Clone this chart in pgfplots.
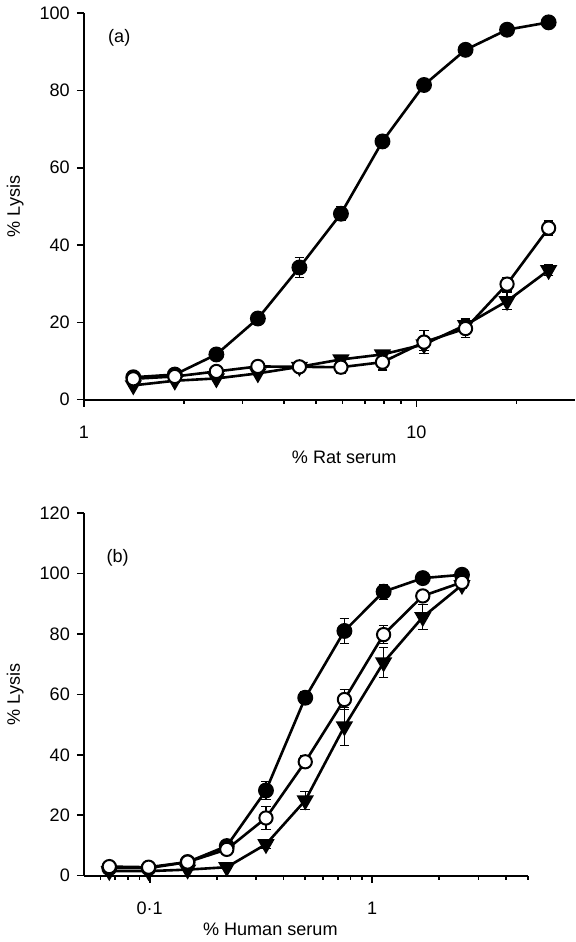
\documentclass[border=0pt]{standalone}
\usepackage{fontspec}
\setmainfont{Liberation Sans}
\usepackage{pgfplots}
\usepackage{pgfplotstable}
\pgfplotsset{compat=1.18}

% panel (a): % rat serum
\pgfplotstableread{
x      y     e
1.408  5.8   0.4
1.877  6.5   0.4
2.503  11.7  0.4
3.337  21.0  0.5
4.449  34.2  2.6
5.932  48.1  1.8
7.910  66.8  1.2
10.547 81.4  1.2
14.063 90.5  0.6
18.75  95.7  0.4
25.0   97.6  0.4
}\ratfilled
\pgfplotstableread{
x      y     e
1.408  5.4   0.4
1.877  6.0   0.4
2.503  7.3   0.4
3.337  8.6   0.5
4.449  8.5   1.2
5.932  8.4   1.5
7.910  9.7   2.0
10.547 14.9  3.0
14.063 18.4  2.4
18.75  29.9  1.8
25.0   44.4  1.8
}\ratopen
\pgfplotstableread{
x      y     e
1.408  3.7   0.3
1.877  4.9   0.3
2.503  5.5   0.3
3.337  6.8   0.3
4.449  8.5   0.6
5.932  10.4  0.5
7.910  11.7  0.5
10.547 14.3  1.5
14.063 19.3  1.6
18.75  25.5  2.2
25.0   33.5  1.4
}\rattri

% panel (b): % human serum
\pgfplotstableread{
x      y     e
0.0658 2.5   0.2
0.0988 2.5   0.2
0.148  4.5   0.4
0.222  9.8   0.5
0.333  28.2  3.0
0.5    58.9  2.0
0.75   81.0  4.2
1.125  94.0  2.5
1.6875 98.5  0.8
2.531  99.6  0.5
}\humfilled
\pgfplotstableread{
x      y     e
0.0658 3.0   0.3
0.0988 2.8   0.3
0.148  4.5   0.5
0.222  8.7   0.5
0.333  19.1  3.7
0.5    37.7  2.0
0.75   58.3  3.2
1.125  79.8  3.0
1.6875 92.6  1.5
2.531  97.1  0.5
}\humopen
\pgfplotstableread{
x      y     e
0.0658 1.5   0.2
0.0988 1.5   0.2
0.148  2.0   0.2
0.222  2.8   0.3
0.333  10.4  1.3
0.5    24.9  3.0
0.75   49.4  6.2
1.125  70.6  5.0
1.6875 85.6  4.2
2.531  96.2  1.0
}\humtri

\begin{document}
\begin{tikzpicture}[
  ser/.style={black, line width=1.3pt},
  filled/.style={mark=*, mark size=3.3pt, mark options={solid, fill=black}},
  open/.style={mark=*, mark size=3.3pt, mark options={solid, fill=white, draw=black, line width=1pt}},
  tri/.style={mark=triangle*, mark size=3.7pt, mark options={solid, fill=black, rotate=180}},
]
% (a)
\begin{axis}[
  scale only axis,
  xmode=log,
  axis lines*=left,
  axis line style={line width=1pt},
  tick align=outside,
  major tick length=3.5pt,
  minor tick length=2pt,
  every tick/.style={black, line width=0.8pt},
  font=\fontsize{9}{10}\selectfont,
  /pgf/number format/assume math mode=true,
  clip=false,
  xticklabel style={yshift=-6pt},
  error bars/y dir=both, error bars/y explicit,
  error bars/error bar style={line width=0.6pt, black},
  error bars/error mark options={line width=0.6pt, mark size=2.4pt, black, rotate=90},
  at={(0,237pt)},
  width=244.5pt, height=192.5pt,
  xmin=1, xmax=30, ymin=0, ymax=100,
  ytick={0,20,40,60,80,100},
  xtick={1,10}, xticklabels={1,10},
  minor xtick={2,3,4,5,6,7,8,9,20},
  xlabel={\% Rat serum}, ylabel={\% Lysis},
  xlabel style={at={(axis description cs:0.53,-0.148)}, anchor=center},
  ylabel style={at={(axis description cs:-0.14,0.5)}, anchor=center},
]
\addplot[ser, filled] table[x=x, y=y, y error=e] {\ratfilled};
\addplot[ser, tri] table[x=x, y=y, y error=e] {\rattri};
\addplot[ser, open] table[x=x, y=y, y error=e] {\ratopen};
\node[anchor=west, font=\fontsize{9}{10}\selectfont] at (rel axis cs:0.035,0.935) {(a)};
\end{axis}

% (b)
\begin{axis}[
  scale only axis,
  xmode=log,
  axis lines*=left,
  axis line style={line width=1pt},
  tick align=outside,
  major tick length=3.5pt,
  minor tick length=2pt,
  every tick/.style={black, line width=0.8pt},
  font=\fontsize{9}{10}\selectfont,
  /pgf/number format/assume math mode=true,
  clip=false,
  xticklabel style={yshift=-6pt},
  error bars/y dir=both, error bars/y explicit,
  error bars/error bar style={line width=0.6pt, black},
  error bars/error mark options={line width=0.6pt, mark size=2.4pt, black, rotate=90},
  at={(0,0)},
  width=221pt, height=180.5pt,
  xmin=0.0506, xmax=5, ymin=0, ymax=120,
  ytick={0,20,40,60,80,100,120},
  xtick={0.1,1}, xticklabels={0·1,1},
  minor xtick={0.06,0.07,0.08,0.09,0.2,0.3,0.4,0.5,0.6,0.7,0.8,0.9,2,3,4,5},
  xlabel={\% Human serum}, ylabel={\% Lysis},
  xlabel style={at={(axis description cs:0.42,-0.147)}, anchor=center},
  ylabel style={at={(axis description cs:-0.155,0.5)}, anchor=center},
]
\addplot[ser, filled] table[x=x, y=y, y error=e] {\humfilled};
\addplot[ser, tri] table[x=x, y=y, y error=e] {\humtri};
\addplot[ser, open] table[x=x, y=y, y error=e] {\humopen};
\node[anchor=west, font=\fontsize{9}{10}\selectfont] at (rel axis cs:0.035,0.878) {(b)};
\end{axis}
\end{tikzpicture}
\end{document}
